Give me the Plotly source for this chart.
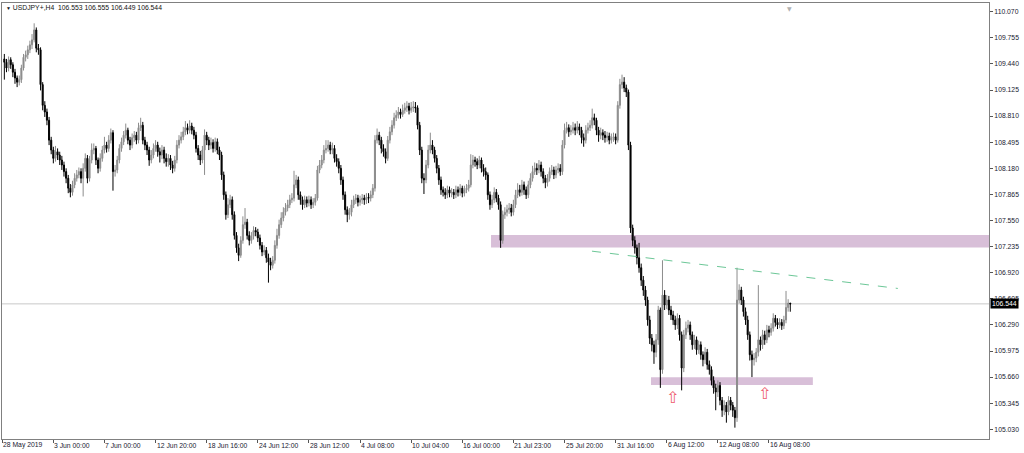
import plotly.graph_objects as go

# ---------------- data (USDJPY+, H4) ----------------
first_open = 109.50
closes = [
    109.46,109.39,109.49,109.43,109.34,109.27,109.22,109.25,109.39,109.52,
    109.55,109.61,109.67,109.73,109.85,109.63,109.61,109.19,108.94,108.86,
    108.76,108.52,108.40,108.30,108.38,108.34,108.28,108.22,108.14,108.06,
    107.94,107.89,107.98,108.06,108.10,108.14,108.06,108.18,108.30,108.06,
    108.28,108.40,108.42,108.28,108.18,108.30,108.40,108.46,108.42,108.52,
    108.61,108.14,108.16,108.28,108.42,108.50,108.58,108.64,108.52,108.46,
    108.55,108.58,108.52,108.67,108.70,108.52,108.46,108.40,108.28,108.34,
    108.42,108.46,108.38,108.34,108.40,108.30,108.26,108.30,108.22,108.18,
    108.28,108.46,108.52,108.56,108.62,108.67,108.64,108.69,108.64,108.58,
    108.42,108.34,108.28,108.40,108.58,108.52,108.46,108.49,108.42,108.50,
    108.40,108.34,108.10,107.86,107.62,107.74,107.80,107.62,107.37,107.22,
    107.13,107.31,107.50,107.53,107.37,107.31,107.36,107.43,107.41,107.34,
    107.25,107.17,107.19,107.10,107.05,107.01,107.07,107.25,107.37,107.50,
    107.58,107.65,107.70,107.74,107.80,107.82,107.98,108.04,107.86,107.80,
    107.74,107.80,107.76,107.80,107.74,107.77,107.82,108.16,108.22,108.28,
    108.40,108.42,108.46,108.40,108.42,108.30,108.26,108.18,108.04,107.86,
    107.68,107.62,107.65,107.74,107.80,107.82,107.77,107.80,107.82,107.80,
    107.83,107.82,107.86,107.94,108.52,108.58,108.52,108.42,108.38,108.30,
    108.52,108.62,108.70,108.79,108.82,108.86,108.83,108.88,108.91,108.93,
    108.88,108.91,108.92,108.91,108.70,108.40,108.06,108.04,108.22,108.40,
    108.46,108.40,108.30,108.18,108.04,107.92,107.89,107.86,107.92,107.88,
    107.89,107.86,107.92,107.89,107.94,107.88,107.92,107.94,107.98,108.22,
    108.28,108.26,108.22,108.28,108.18,108.14,108.10,107.86,107.74,107.80,
    107.89,107.82,107.74,107.31,107.62,107.65,107.68,107.70,107.65,107.74,
    107.86,107.92,107.89,107.98,107.92,107.86,107.98,108.06,108.14,108.18,
    108.16,108.22,108.14,108.06,108.01,108.06,108.14,108.16,108.10,108.16,
    108.18,108.14,108.46,108.64,108.67,108.62,108.64,108.67,108.64,108.68,
    108.64,108.55,108.52,108.64,108.67,108.70,108.79,108.76,108.64,108.58,
    108.61,108.58,108.55,108.57,108.52,108.55,108.56,108.52,108.94,109.19,
    109.22,109.15,109.10,108.46,107.46,107.31,107.22,107.10,106.98,106.83,
    106.71,106.59,106.35,106.13,106.05,105.96,106.11,106.47,105.75,106.65,
    106.53,106.59,106.47,106.41,106.35,106.29,106.37,106.17,105.77,106.17,
    106.25,106.29,106.17,106.05,106.11,105.99,106.05,105.93,105.87,105.96,
    105.81,105.75,105.62,105.53,105.48,105.56,105.38,105.26,105.32,105.24,
    105.38,105.32,105.26,105.17,106.59,106.71,106.59,106.45,106.35,106.17,
    105.93,105.87,105.89,105.96,106.11,106.05,106.17,106.11,106.23,106.20,
    106.25,106.37,106.32,106.29,106.32,106.28,106.35,106.50,106.553,106.544,
]
highs = [
    109.56,109.50,109.53,109.52,109.46,109.38,109.30,109.30,109.43,109.56,
    109.60,109.66,109.72,109.80,109.93,109.88,109.68,109.64,109.22,108.99,
    108.90,108.80,108.56,108.44,108.45,108.42,108.38,108.33,108.26,108.18,
    108.10,107.99,108.03,108.12,108.16,108.19,108.18,108.24,108.36,108.34,
    108.33,108.48,108.48,108.45,108.31,108.36,108.45,108.56,108.50,108.58,
    108.66,108.64,108.22,108.33,108.47,108.55,108.63,108.72,108.67,108.56,
    108.60,108.63,108.62,108.73,108.79,108.74,108.56,108.50,108.44,108.40,
    108.48,108.52,108.50,108.43,108.46,108.44,108.36,108.35,108.34,108.27,
    108.33,108.52,108.58,108.62,108.68,108.75,108.72,108.76,108.73,108.68,
    108.62,108.46,108.39,108.45,108.65,108.62,108.56,108.55,108.53,108.55,
    108.54,108.44,108.38,108.14,107.90,107.82,107.86,107.84,107.66,107.41,
    107.27,107.36,107.60,107.70,107.57,107.42,107.41,107.48,107.47,107.45,
    107.38,107.29,107.25,107.23,107.15,107.10,107.12,107.31,107.45,107.56,
    107.65,107.71,107.76,107.80,107.86,107.88,108.15,108.10,108.08,107.90,
    107.84,107.85,107.84,107.85,107.84,107.82,107.87,108.21,108.28,108.34,
    108.46,108.52,108.52,108.50,108.49,108.46,108.35,108.30,108.22,108.08,
    107.90,107.72,107.70,107.80,107.85,107.87,107.86,107.85,107.87,107.86,
    107.88,107.88,107.91,107.99,108.58,108.66,108.62,108.56,108.47,108.42,
    108.57,108.68,108.76,108.85,108.88,108.92,108.90,108.95,108.97,108.99,
    108.97,108.98,108.99,108.98,108.94,108.74,108.44,108.12,108.28,108.46,
    108.61,108.52,108.44,108.34,108.22,108.08,107.96,107.94,107.97,107.96,
    107.94,107.93,107.97,107.96,107.99,107.97,107.97,107.99,108.04,108.35,
    108.34,108.32,108.30,108.33,108.31,108.23,108.19,108.13,107.90,107.86,
    107.95,107.93,107.86,107.78,107.67,107.71,107.74,107.76,107.75,107.80,
    107.92,108.00,107.98,108.04,108.02,107.96,108.03,108.12,108.21,108.25,
    108.24,108.28,108.26,108.18,108.10,108.11,108.19,108.22,108.20,108.21,
    108.24,108.23,108.52,108.72,108.74,108.71,108.70,108.74,108.72,108.75,
    108.72,108.68,108.60,108.70,108.73,108.76,108.90,108.84,108.79,108.68,
    108.67,108.65,108.63,108.62,108.61,108.60,108.61,108.60,108.99,109.26,
    109.31,109.28,109.19,109.13,108.50,107.50,107.36,107.26,107.28,107.03,
    106.88,106.76,106.63,106.40,106.18,106.10,106.18,106.52,106.50,107.07,
    106.71,106.65,106.64,106.52,106.46,106.40,106.43,106.41,106.21,106.23,
    106.33,106.35,106.33,106.21,106.17,106.15,106.10,106.09,105.97,106.02,
    106.00,105.86,105.79,105.67,105.58,105.62,105.60,105.42,105.38,105.36,
    105.43,105.42,105.36,105.30,106.98,106.78,106.75,106.63,106.50,106.40,
    106.21,105.98,105.95,106.01,106.77,106.15,106.23,106.22,106.29,106.28,
    106.31,106.43,106.41,106.37,106.37,106.36,106.40,106.70,106.60,106.555,
]
lows = [
    109.25,109.34,109.35,109.38,109.28,109.20,109.16,109.18,109.21,109.36,
    109.47,109.50,109.57,109.62,109.70,109.58,109.55,109.12,108.88,108.80,
    108.70,108.46,108.35,108.24,108.26,108.28,108.22,108.16,108.08,108.00,
    107.88,107.83,107.85,107.94,108.02,108.06,108.00,107.84,108.14,108.00,
    108.02,108.24,108.35,108.22,108.12,108.14,108.26,108.36,108.37,108.38,
    108.48,107.91,108.08,108.12,108.24,108.38,108.46,108.54,108.47,108.40,
    108.42,108.50,108.47,108.48,108.63,108.47,108.40,108.34,108.21,108.24,
    108.30,108.38,108.32,108.25,108.29,108.24,108.20,108.20,108.16,108.12,
    108.14,108.24,108.42,108.48,108.52,108.58,108.59,108.60,108.59,108.53,
    108.37,108.28,108.22,108.24,108.10,108.46,108.40,108.41,108.37,108.38,
    108.35,108.28,108.04,107.80,107.56,107.58,107.70,107.56,107.32,107.16,
    107.06,107.10,107.27,107.45,107.32,107.25,107.27,107.32,107.36,107.29,
    107.20,107.12,107.13,107.04,106.80,106.95,106.97,107.03,107.21,107.33,
    107.46,107.54,107.61,107.66,107.70,107.76,107.78,107.94,107.80,107.74,
    107.68,107.70,107.71,107.72,107.69,107.70,107.73,107.79,108.12,108.18,
    108.24,108.36,108.38,108.35,108.35,108.25,108.20,108.12,107.98,107.80,
    107.62,107.53,107.56,107.60,107.70,107.75,107.72,107.73,107.75,107.74,
    107.75,107.76,107.78,107.82,107.90,108.48,108.46,108.36,108.32,108.24,
    108.27,108.48,108.58,108.66,108.75,108.78,108.78,108.80,108.84,108.86,
    108.83,108.85,108.86,108.85,108.65,108.34,108.00,107.87,108.00,108.18,
    108.36,108.35,108.25,108.12,107.98,107.86,107.84,107.81,107.82,107.83,
    107.83,107.81,107.82,107.84,107.85,107.83,107.84,107.88,107.90,107.95,
    108.18,108.20,108.17,108.18,108.13,108.08,108.04,107.80,107.68,107.70,
    107.76,107.77,107.68,107.22,107.27,107.57,107.60,107.63,107.60,107.61,
    107.70,107.82,107.84,107.85,107.86,107.81,107.82,107.94,108.02,108.10,
    108.10,108.12,108.08,108.00,107.94,107.96,108.02,108.10,108.05,108.06,
    108.12,108.09,108.10,108.42,108.60,108.56,108.58,108.60,108.58,108.60,
    108.58,108.48,108.44,108.48,108.60,108.63,108.66,108.70,108.58,108.50,
    108.53,108.52,108.49,108.50,108.47,108.48,108.50,108.47,108.49,108.90,
    109.14,109.10,109.04,108.40,107.40,107.24,107.15,107.02,106.92,106.76,
    106.64,106.52,106.28,106.06,105.97,105.82,105.90,106.05,105.53,105.70,
    106.47,106.48,106.41,106.35,106.29,106.23,106.24,106.10,105.50,105.72,
    106.12,106.20,106.11,105.99,106.00,105.93,105.94,105.87,105.79,105.82,
    105.75,105.69,105.56,105.46,105.26,105.42,105.32,105.18,105.20,105.11,
    105.20,105.26,105.18,105.05,105.12,106.55,106.53,106.39,106.29,106.11,
    105.86,105.66,105.80,105.84,105.91,105.98,106.00,106.05,106.07,106.14,
    106.16,106.21,106.27,106.24,106.25,106.23,106.24,106.31,106.45,106.449,
]
opens = [first_open] + closes[:-1]
bar_numbers = list(range(1, len(closes) + 1))

date_tick_bars = list(range(0, 361, 24))
date_tick_labels = ["28 May 2019", "3 Jun 00:00", "7 Jun 00:00", "12 Jun 20:00",
                    "18 Jun 16:00", "24 Jun 12:00", "28 Jun 12:00", "4 Jul 08:00",
                    "10 Jul 04:00", "16 Jul 00:00", "21 Jul 23:00", "25 Jul 20:00",
                    "31 Jul 16:00", "6 Aug 12:00", "12 Aug 08:00", "16 Aug 08:00"]
price_ticks = [110.070, 109.755, 109.440, 109.125, 108.810, 108.495, 108.180,
               107.865, 107.550, 107.235, 106.920, 106.605, 106.290, 105.975,
               105.660, 105.345, 105.030]

last_price = 106.544
header = "USDJPY+,H4\u00a0\u00a0106.553 106.555 106.449 106.544"

# zones / drawings (bar number, price)
upper_zone = dict(start=229.5, low=107.225, high=107.375)
lower_zone = dict(start=304.6, end=380.6, low=105.565, high=105.657)
trend_line = dict(x0=276.9, y0=107.18, x1=420.5, y1=106.73)
arrow_marks = [(314.9, 105.41), (358.1, 105.46)]

X_RANGE = [-0.1, 463.3]
Y_RANGE = [104.913, 110.175]

UP = "#8c8c8c"
DN = "#000000"
TXT = "#202030"
FONT = "Liberation Sans"

fig = go.Figure()
fig.add_trace(go.Candlestick(
    x=bar_numbers, open=opens, high=highs, low=lows, close=closes,
    increasing=dict(line=dict(color=UP, width=1), fillcolor=UP),
    decreasing=dict(line=dict(color=DN, width=1), fillcolor=DN),
    whiskerwidth=0, showlegend=False, hoverinfo="skip",
))

shapes = [
    dict(type="line", xref="paper", x0=0, x1=1, yref="y", y0=last_price, y1=last_price,
         line=dict(color="#c8c8c8", width=1), layer="below"),
    dict(type="rect", xref="x", yref="y", x0=upper_zone["start"], x1=X_RANGE[1],
         y0=upper_zone["low"], y1=upper_zone["high"], fillcolor="#D8BFD8",
         line=dict(width=0), layer="below"),
    dict(type="rect", xref="x", yref="y", x0=lower_zone["start"], x1=lower_zone["end"],
         y0=lower_zone["low"], y1=lower_zone["high"], fillcolor="#D8BFD8",
         line=dict(width=0), layer="below"),
    dict(type="line", xref="x", yref="y", x0=trend_line["x0"], y0=trend_line["y0"],
         x1=trend_line["x1"], y1=trend_line["y1"],
         line=dict(color="#6cc797", width=1, dash="dash"), layer="above"),
]

annotations = []
for b, lab in zip(date_tick_bars, date_tick_labels):
    annotations.append(dict(x=b, xref="x", y=-0.0138, yref="paper", text=lab,
                            showarrow=False, xanchor="left", yanchor="middle",
                            font=dict(family=FONT, size=6.8, color=TXT), xshift=-1))
annotations.append(dict(x=0.002, xref="paper", y=0.990, yref="paper",
                        text="<span style='font-size:5px'>\u25bc</span>\u00a0" + header,
                        showarrow=False, xanchor="left", yanchor="middle",
                        font=dict(family=FONT, size=6.8, color="#111111")))
annotations.append(dict(x=1, xref="paper", y=last_price, yref="y", text=f"{last_price:.3f}",
                        showarrow=False, xanchor="left", yanchor="middle", xshift=1,
                        bgcolor="#000000", borderpad=1,
                        font=dict(family=FONT, size=6.8, color="#ffffff")))
for bx, py in arrow_marks:
    annotations.append(dict(x=bx, xref="x", y=py, yref="y", text="\u21e7",
                            showarrow=False, xanchor="center", yanchor="middle",
                            font=dict(family="DejaVu Sans", size=16, color="#ee5d6c")))
annotations.append(dict(x=0.798, xref="paper", y=1.0, yref="paper", text="\u25bc",
                        showarrow=False, xanchor="center", yanchor="top",
                        font=dict(family="DejaVu Sans", size=6, color="#b0b0b0")))

fig.update_layout(
    width=1024, height=453,
    margin=dict(l=2, r=35, t=3, b=14),
    paper_bgcolor="#ffffff", plot_bgcolor="#ffffff",
    shapes=shapes, annotations=annotations,
    xaxis=dict(range=X_RANGE, tickvals=date_tick_bars, showticklabels=False,
               ticks="outside", ticklen=3, tickcolor="#555555",
               showgrid=False, zeroline=False, showline=True, mirror=True,
               linecolor="#808080", linewidth=1, rangeslider=dict(visible=False)),
    yaxis=dict(range=Y_RANGE, side="right", tickvals=price_ticks,
               ticktext=[f"{v:.3f}" for v in price_ticks],
               ticks="outside", ticklen=3, tickcolor="#555555",
               tickfont=dict(family=FONT, size=6.8, color=TXT),
               showgrid=False, zeroline=False, showline=True, mirror=True,
               linecolor="#808080", linewidth=1),
    showlegend=False,
)

fig.write_html("out.html", config={"displayModeBar": False},
               post_script="document.body.style.margin='0';document.body.style.overflow='hidden';")
